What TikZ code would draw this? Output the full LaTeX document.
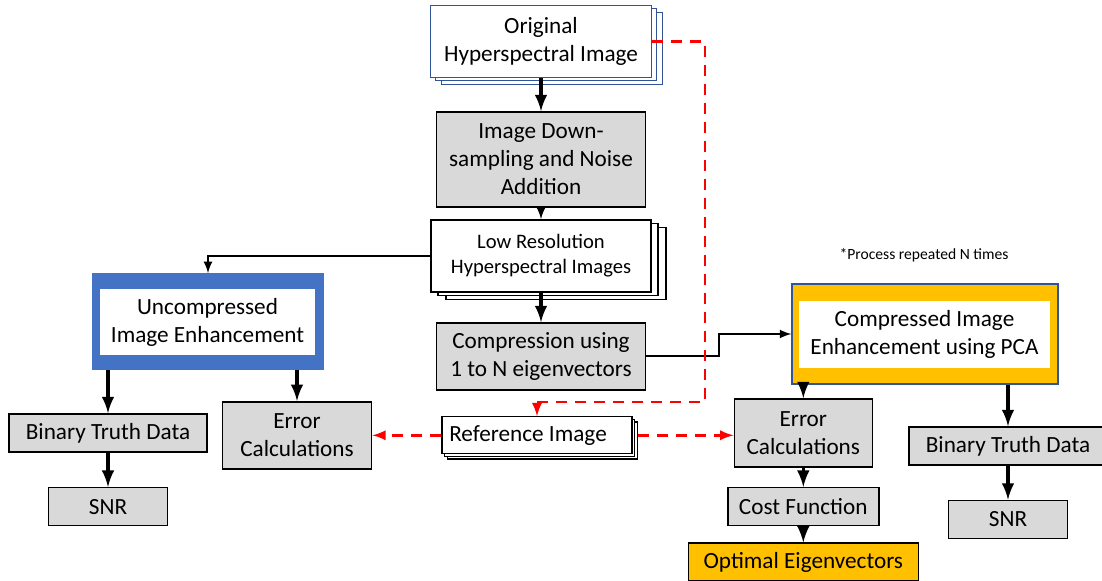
\documentclass[tikz,border=0pt]{standalone}
\usepackage{fontspec}
\setmainfont{Carlito}
\usetikzlibrary{positioning,arrows,shadows,calc}
\definecolor{boxgray}{HTML}{D9D9D9}
\definecolor{offblue}{HTML}{4472C4}
\definecolor{darkblue}{HTML}{2F5597}
\definecolor{amber}{HTML}{FFC000}
\tikzset{box/.style n args={2}{
    draw, line width=0.8pt, minimum width=#1, minimum height=#2,
    inner sep=0pt, align=center, font=\fontsize{11.6}{14}\selectfont
    },
    grey/.style={fill=boxgray},
    stack/.style n args={4}{
    copy shadow={shadow xshift=#3, shadow yshift=-#4},
    copy shadow={shadow xshift=#1, shadow yshift=-#2}
    },
    thickarrow/.style={->, line width=1.8pt},
    thinarrow/.style={->, line width=1pt},
    reddash/.style={->, draw=red, line width=1.3pt, dash pattern=on 5.5pt off 4pt}
}

\begin{document}
\begin{tikzpicture}[>=latex, x=0.5pt, y=-0.5pt]
		\useasboundingbox (0,0) rectangle (1102,581);

		% centre column
		\node[box={110.5pt}{36pt}, draw=darkblue, line width=0.6pt, fill=white,
			stack={2.5pt}{1.5pt}{5.5pt}{3.5pt}] (orig) at (541,41.5) {Original\\Hyperspectral Image};
		\node[box={104.5pt}{47.5pt}, grey] (down) at (541,159.5) {Image Down-\\sampling and Noise\\Addition};
		\node[box={110pt}{36pt}, fill=white, stack={3.5pt}{1.8pt}{7.5pt}{3.8pt},
			font=\fontsize{10.3}{12.5}\selectfont] (lowres) at (541,256) {Low Resolution\\Hyperspectral Images};
		\node[box={104.5pt}{33.5pt}, grey] (comp) at (541,356.5) {Compression using\\1 to N eigenvectors};
		\node[box={95pt}{18.5pt}, fill=white, line width=0.6pt,
			stack={1.2pt}{1.3pt}{2.6pt}{2.6pt}] (ref) at (537,435.3) {Reference Image\hspace*{9pt}};

		% uncompressed branch
		\node[box={115pt}{47.5pt}, draw=offblue, fill=offblue] (uncomp) at (208,321.5) {};
		\node[box={107.5pt}{33pt}, draw=none, fill=white] (uncompin) at (207.5,322) {Uncompressed\\Image Enhancement};
		\node[box={99pt}{19pt}, grey] (bin1) at (108,433) {Binary Truth Data};
		\node[box={59.5pt}{19pt}, grey] (snr1) at (108,506.7) {SNR};
		\node[box={74.5pt}{33.5pt}, grey] (err1) at (297,435.3) {Error\\Calculations};

		% compressed branch
		\node[font=\fontsize{7.8}{9}\selectfont] (note) at (924,255) {*Process repeated N times};
		\node[box={133pt}{50pt}, draw=darkblue, line width=0.6pt, fill=amber] (compr) at (925,334) {};
		\node[box={125.5pt}{33.5pt}, draw=none, fill=white] (comprin) at (924.5,334.3) {Compressed Image\\Enhancement using PCA};
		\node[box={69pt}{34pt}, grey] (err2) at (803.3,433) {Error\\Calculations};
		\node[box={75.5pt}{19pt}, grey] (cost) at (803.3,506.7) {Cost Function};
		\node[box={115pt}{19pt}, fill=amber] (opt) at (803.3,562.3) {Optimal Eigenvectors};
		\node[box={99pt}{19pt}, grey] (bin2) at (1008,446) {Binary Truth Data};
		\node[box={59.5pt}{19pt}, grey] (snr2) at (1008,519.5) {SNR};

		\draw [thickarrow] (orig.south) -- (down.north);
		\draw [thinarrow] (down.south) -- (lowres.north);
		\draw [thickarrow] (lowres.south) -- (comp.north);
		\draw [thinarrow] (lowres.west) -| (uncomp.north);
		\draw [thinarrow] (comp.east) -- ++(73,0) |- (compr.west);

		\draw [thickarrow] (uncomp.south -| bin1.north) -- (bin1.north);
		\draw [thickarrow] (uncomp.south -| err1.north) -- (err1.north);
		\draw [thickarrow] (bin1) -- (snr1);

		\draw [thickarrow] (compr.south -| err2.north) -- (err2.north);
		\draw [thickarrow] (compr.south -| bin2.north) -- (bin2.north);
		\draw [thickarrow] (err2) -- (cost);
		\draw [thickarrow] (cost) -- (opt);
		\draw [thickarrow] (bin2) -- (snr2);

		% reference image paths
		\coordinate (rturn) at (705,402);
		\draw [reddash] (orig.east) -| (rturn) -| (ref.north);
		\draw [reddash] (ref.west) -- (err1.east);
		\draw [reddash] ([xshift=2.6pt]ref.east) -- (ref.east -| err2.west);
	\end{tikzpicture}
\end{document}
